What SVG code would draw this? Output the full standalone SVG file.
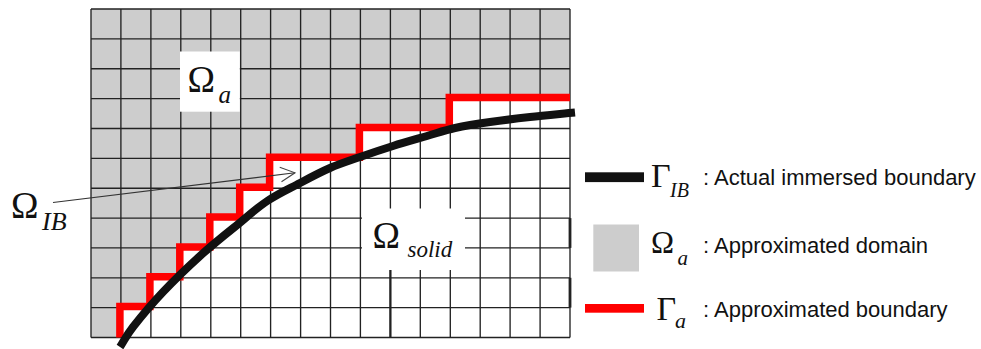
<svg xmlns="http://www.w3.org/2000/svg" width="981" height="349" viewBox="0 0 981 349">
  <defs>
    <style>
      .grid line { stroke: #222; stroke-width: 1.35; }
      .math { font-family: "Liberation Serif", "Times New Roman", serif; fill: #111; }
      .sub { font-family: "Liberation Serif", "Times New Roman", serif; font-style: italic; fill: #111; }
      .leg { font-family: "Liberation Sans", Arial, sans-serif; font-size: 22px; fill: #111; }
      .gray { fill: #cdcdcd; }
      .red { fill: none; stroke: #ff0000; stroke-width: 7.5; stroke-linejoin: miter; stroke-linecap: butt; }
      .curve { fill: none; stroke: #111; stroke-width: 8; stroke-linecap: butt; stroke-linejoin: round; }
    </style>
    <marker id="openArrow" markerUnits="userSpaceOnUse" markerWidth="20" markerHeight="20" refX="0" refY="0" viewBox="-18 -10 20 20" orient="auto">
      <path d="M-14.5,-7.3 L0,0 L-14.5,7.3" fill="none" stroke="#444" stroke-width="1.1"/>
    </marker>
  </defs>

  <rect width="981" height="349" fill="#ffffff"/>

  <g id="domain">
    <rect x="91" y="9" width="479" height="328.5" fill="#ffffff"/>
    <path id="approx-domain-fill" class="gray" d="M91,9 H570 V98.6 H450.3 V128.5 H360.4 V158.3 H270.6 V188.2 H240.7 V218.1 H210.8 V247.9 H180.8 V277.8 H150.9 V307.6 H120.9 V337.5 H91 Z"/>
    <g id="grid" class="grid">
      <line x1="91" y1="9" x2="91" y2="337.5"/>
      <line x1="120.9" y1="9" x2="120.9" y2="337.5"/>
      <line x1="150.9" y1="9" x2="150.9" y2="337.5"/>
      <line x1="180.8" y1="9" x2="180.8" y2="337.5"/>
      <line x1="210.8" y1="9" x2="210.8" y2="337.5"/>
      <line x1="240.7" y1="9" x2="240.7" y2="337.5"/>
      <line x1="270.6" y1="9" x2="270.6" y2="337.5"/>
      <line x1="300.6" y1="9" x2="300.6" y2="337.5"/>
      <line x1="330.5" y1="9" x2="330.5" y2="337.5"/>
      <line x1="360.4" y1="9" x2="360.4" y2="337.5"/>
      <line x1="390.4" y1="9" x2="390.4" y2="337.5"/>
      <line x1="420.3" y1="9" x2="420.3" y2="337.5"/>
      <line x1="450.3" y1="9" x2="450.3" y2="337.5"/>
      <line x1="480.2" y1="9" x2="480.2" y2="337.5"/>
      <line x1="510.1" y1="9" x2="510.1" y2="337.5"/>
      <line x1="540.1" y1="9" x2="540.1" y2="337.5"/>
      <line x1="570" y1="9" x2="570" y2="337.5"/>
      <line x1="91" y1="9" x2="570" y2="9"/>
      <line x1="91" y1="38.9" x2="570" y2="38.9"/>
      <line x1="91" y1="68.7" x2="570" y2="68.7"/>
      <line x1="91" y1="98.6" x2="570" y2="98.6"/>
      <line x1="91" y1="128.5" x2="570" y2="128.5"/>
      <line x1="91" y1="158.3" x2="570" y2="158.3"/>
      <line x1="91" y1="188.2" x2="570" y2="188.2"/>
      <line x1="91" y1="218.1" x2="570" y2="218.1"/>
      <line x1="91" y1="247.9" x2="570" y2="247.9"/>
      <line x1="91" y1="277.8" x2="570" y2="277.8"/>
      <line x1="91" y1="307.6" x2="570" y2="307.6"/>
      <line x1="91" y1="337.5" x2="570" y2="337.5"/>
      <line x1="570" y1="218.1" x2="570" y2="247.9" style="stroke-width:2.8"/>
      <line x1="570" y1="277.8" x2="570" y2="307.6" style="stroke-width:2.8"/>
      <line x1="390.4" y1="270" x2="390.4" y2="337.5" style="stroke-width:2.2"/>
    </g>
  </g>

  <g id="label-omega-a">
    <rect x="180" y="51.5" width="59.8" height="60.2" fill="#ffffff"/>
    <text class="math" x="187.5" y="91.5" font-size="37">Ω</text>
    <text class="sub" x="218.5" y="103.3" font-size="25">a</text>
  </g>

  <g id="label-omega-solid">
    <rect x="362" y="208.5" width="103" height="61.5" fill="#ffffff"/>
    <text class="math" x="372.5" y="248" font-size="37">Ω</text>
    <text class="sub" x="407.5" y="256.5" font-size="23">solid</text>
  </g>

  <g id="approx-boundary">
    <path class="red" d="M119.9,337.5 V306.6 H149.9 V276.8 H179.8 V246.9 H209.8 V217.1 H239.7 V187.2 H269.6 V157.3 H359.4 V127.5 H449.3 V97.6 H570"/>
  </g>

  <g id="immersed-boundary">
    <path class="curve" d="M120,347 C124.7,340 125.8,336.2 133,327 C140.2,317.8 151.8,303.8 163,292 C174.2,280.2 188.2,266.7 200,256 C211.8,245.3 222.7,236.5 234,227.5 C245.3,218.5 256.5,208 268,200.5 C279,193.3 289.7,188.5 300,183 C310.3,177.5 320,172.3 330,168 C340,163.7 349.5,160.7 360,157 C370.5,153.3 381.8,149.5 393,146 C404.2,142.5 416.7,139 427,136 C437.3,133 444.5,130.3 455,128 C465.5,125.7 477.5,123.8 490,122 C502.5,120.2 515.8,118.6 530,117 C544.2,115.4 560,114 575,112.5"/>
  </g>

  <g id="label-omega-ib">
    <text class="math" x="11" y="218" font-size="37">Ω</text>
    <text class="sub" x="42" y="230" font-size="26">IB</text>
  </g>

  <g id="connectors">
    <line x1="53" y1="202.5" x2="295" y2="172.8" stroke="#333" stroke-width="1.1" marker-end="url(#openArrow)"/>
  </g>

  <g id="legend">
    <g id="legend-actual">
      <rect x="585" y="172.3" width="59" height="9.8" fill="#111"/>
      <text class="math" x="651" y="186.5" font-size="34">Γ</text>
      <text class="sub" x="670" y="196.5" font-size="20">IB</text>
      <text class="leg" x="703" y="185">: Actual immersed boundary</text>
    </g>
    <g id="legend-domain">
      <rect x="593.3" y="224.5" width="45.7" height="47" fill="#cdcdcd"/>
      <text class="math" x="651" y="253.3" font-size="31">Ω</text>
      <text class="sub" x="677.5" y="265" font-size="21">a</text>
      <text class="leg" x="703" y="252.5">: Approximated domain</text>
    </g>
    <g id="legend-approx">
      <rect x="585" y="304" width="59" height="8.7" fill="#ff0000"/>
      <text class="math" x="656.5" y="320" font-size="34">Γ</text>
      <text class="sub" x="675" y="328" font-size="22">a</text>
      <text class="leg" x="703" y="317">: Approximated boundary</text>
    </g>
  </g>
</svg>
